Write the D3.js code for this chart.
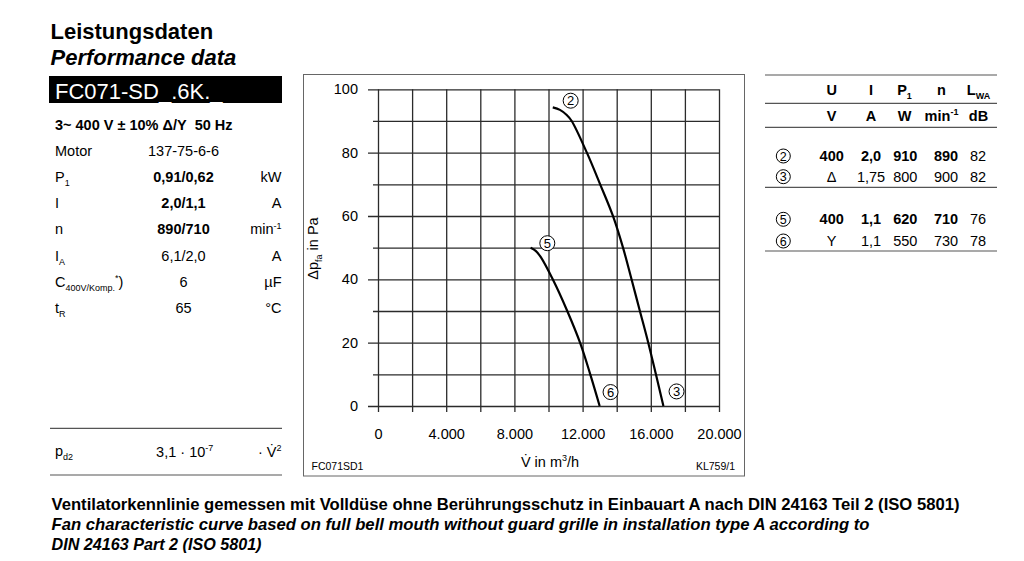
<!DOCTYPE html>
<html>
<head>
<meta charset="utf-8">
<script src="https://cdn.jsdelivr.net/npm/d3@7"></script>
<style>
  html, body { margin: 0; padding: 0; background: #fff; }
  svg { display: block; font-family: "Liberation Sans", Arial, Helvetica, sans-serif; }
</style>
</head>
<body>
<svg id="chart" width="1024" height="561"></svg>
<script>
// ---- data ----
// curve 2 -> 3 (delta connection), [V in m3/h, dp in Pa]
const curveDelta = [
  [10250, 94.3], [10670, 93.5], [11070, 91.9], [11360, 90], [12250, 80],
  [13030, 70], [13780, 60], [14370, 50], [14870, 40], [15360, 30],
  [15850, 20], [16300, 10], [16740, 0]
];
// curve 5 -> 6 (star connection)
const curveStar = [
  [8950, 50], [9250, 49], [9550, 47], [10250, 40],
  [11100, 30], [11850, 20], [12450, 10], [13000, 0]
];
// operating point markers (data units)
const pointIds = ['2', '3', '5', '6'];
const pointAt = [[11300, 96.4], [17510, 4.6], [9930, 51.4], [13640, 4.4]];

const xTicks = [0, 4000, 8000, 12000, 16000, 20000];
const xGrid = [0, 2000, 4000, 6000, 8000, 10000, 12000, 14000, 16000, 18000, 20000];
const yTicks = [0, 20, 40, 60, 80, 100];
const yMinor = [10, 30, 50, 70, 90];

// left parameter block
const params = [
  { name: [['Motor']], value: '137-75-6-6', unit: [] },
  { name: [['P'], ['1', 'sub']], value: '0,91/0,62', unit: [['kW']], rated: true },
  { name: [['I']], value: '2,0/1,1', unit: [['A']], rated: true },
  { name: [['n']], value: '890/710', unit: [['min'], ['-1', 'sup']], rated: true },
  { name: [['I'], ['A', 'sub']], value: '6,1/2,0', unit: [['A']] },
  { name: [['C'], ['400V/Komp.', 'sub'], ['*', 'sup'], [')']], value: '6', unit: [['µF']] },
  { name: [['t'], ['R', 'sub']], value: '65', unit: [['°C']] }
];
const supply = '3~ 400 V ± 10% Δ/Y\u00a0\u00a050 Hz';
const pd2 = { name: [['p'], ['d2', 'sub']], value: [['3,1 · 10'], ['-7', 'sup']], unit: [['· V\u0307'], ['2', 'sup']] };

// right table
const headCols = [[['U']], [['I']], [['P'], ['1', 'sub']], [['n']], [['L'], ['WA', 'sub']]];
const unitCols = [[['V']], [['A']], [['W']], [['min'], ['-1', 'sup']], [['dB']]];
const opRows = [
  { id: '2', vals: ['400', '2,0', '910', '890', '82'], rated: true },
  { id: '3', vals: ['Δ', '1,75', '800', '900', '82'] },
  { id: '5', vals: ['400', '1,1', '620', '710', '76'], rated: true },
  { id: '6', vals: ['Y', '1,1', '550', '730', '78'] }
];

const notes = [
  'Ventilatorkennlinie gemessen mit Volldüse ohne Berührungsschutz in Einbauart A nach DIN 24163 Teil 2 (ISO 5801)',
  'Fan characteristic curve based on full bell mouth without guard grille in installation type A according to',
  'DIN 24163 Part 2 (ISO 5801)'
];

// ---- helpers ----
const svg = d3.select('#chart');

// write text with sub/superscript parts
function rich(text, parts, size) {
  let cur = 0;
  parts.forEach(([t, mode]) => {
    let shift = mode === 'sub' ? size * 0.28 : mode === 'sup' ? -size * 0.38 : 0;
    text.append('tspan')
      .attr('dy', shift - cur)
      .style('font-size', mode ? (size * 0.62) + 'px' : null)
      .text(t);
    cur = shift;
  });
  return text;
}

function label(x, y, parts, opts = {}) {
  const size = opts.size || 14.5;
  const t = svg.append('text')
    .attr('x', x).attr('y', y)
    .attr('text-anchor', opts.anchor || 'start')
    .style('font-size', size + 'px')
    .style('font-weight', opts.bold ? 'bold' : null)
    .style('font-style', opts.italic ? 'italic' : null)
    .attr('fill', opts.fill || '#000');
  return rich(t, parts, size);
}

// ---- left block ----
label(50.5, 38.5, [['Leistungsdaten']], { size: 22, bold: true });
label(50.5, 64.5, [['Performance data']], { size: 22, bold: true, italic: true });
svg.append('rect').attr('x', 49).attr('y', 76).attr('width', 233).attr('height', 27).attr('fill', '#000');
label(55, 98.5, [['FC071-SD_.6K._']], { size: 22, fill: '#fff' });
label(55, 130, [[supply]], { size: 14.5, bold: true });

const rowY = d3.scaleLinear().domain([0, 6]).range([155.5, 313.3]);
params.forEach((p, i) => {
  const yy = rowY(i);
  label(55, yy, p.name);
  label(183.5, yy, [[p.value]], { anchor: 'middle', bold: p.rated });
  if (p.unit.length) label(281.5, yy, p.unit, { anchor: 'end' });
});

svg.append('g').selectAll('line').data([428.3, 475]).join('line')
  .attr('x1', 50).attr('x2', 282).attr('y1', d => d).attr('y2', d => d)
  .attr('stroke', '#555').attr('stroke-width', 1.2);
label(55, 456, pd2.name);
label(184.7, 456.5, pd2.value, { anchor: 'middle' });
label(281.5, 456.5, pd2.unit, { anchor: 'end' });

// ---- chart ----
svg.append('rect').attr('x', 303.5).attr('y', 74.5).attr('width', 441).attr('height', 401.5)
  .attr('fill', 'none').attr('stroke', '#666').attr('stroke-width', 1);

const x = d3.scaleLinear().domain([0, 20000]).range([378, 719]);
const y = d3.scaleLinear().domain([0, 100]).range([406, 89.3]);
const plotW = x(20000) - x(0);
const plotH = y(0) - y(100);
const de = d3.formatLocale({ decimal: ',', thousands: '.', grouping: [3], currency: ['', '€'] }).format(',');

function styleGrid(g) {
  g.select('.domain').remove();
  g.selectAll('.tick line').attr('stroke', '#2b2b2b').attr('stroke-width', 1.3);
}

// vertical grid, running a little below zero
svg.append('g').attr('transform', `translate(0,${y(100)})`)
  .call(d3.axisBottom(x).tickValues(xGrid).tickSize(plotH + 6).tickFormat(''))
  .call(styleGrid);
// horizontal grid, majors stick out further on the left
svg.append('g').attr('transform', `translate(${x(0) - 10},0)`)
  .call(d3.axisLeft(y).tickValues(yTicks).tickSize(-(plotW + 10)).tickFormat(''))
  .call(styleGrid);
svg.append('g').attr('transform', `translate(${x(0) - 5},0)`)
  .call(d3.axisLeft(y).tickValues(yMinor).tickSize(-(plotW + 5)).tickFormat(''))
  .call(styleGrid);

// tick labels
const xLab = svg.append('g').attr('transform', `translate(0,${y(0)})`)
  .call(d3.axisBottom(x).tickValues(xTicks).tickSize(0).tickPadding(22.5).tickFormat(de));
xLab.select('.domain').remove();
xLab.selectAll('text').style('font-size', '14.5px').attr('fill', '#000')
  .style('font-family', '"Liberation Sans", Arial, sans-serif');

const yLab = svg.append('g').attr('transform', `translate(${x(0)},0)`)
  .call(d3.axisLeft(y).tickValues(yTicks).tickSize(0).tickPadding(20));
yLab.select('.domain').remove();
yLab.selectAll('text').style('font-size', '14.5px').attr('fill', '#000')
  .style('font-family', '"Liberation Sans", Arial, sans-serif');

// axis titles
label(550, 466.5, [['V\u0307 in m'], ['3', 'sup'], ['/h']], { anchor: 'middle' });
const yt = svg.append('text')
  .attr('transform', 'translate(318,248.5) rotate(-90)')
  .attr('text-anchor', 'middle').style('font-size', '14.5px');
rich(yt, [['Δp'], ['fa', 'sub'], [' in Pa']], 14.5);

label(311.5, 470, [['FC071SD1']], { size: 10.5 });
label(735, 470, [['KL759/1']], { size: 10.5, anchor: 'end' });

// curves
const line = d3.line().x(d => x(d[0])).y(d => y(d[1])).curve(d3.curveCatmullRom.alpha(0.5));
svg.append('g').selectAll('path').data([curveDelta, curveStar]).join('path')
  .attr('d', line).attr('fill', 'none').attr('stroke', '#000').attr('stroke-width', 2.2);

// operating point markers
const marks = svg.append('g').selectAll('g').data(pointIds).join('g')
  .attr('transform', (d, i) => `translate(${x(pointAt[i][0])},${y(pointAt[i][1])})`);
marks.append('circle').attr('r', 7.5).attr('fill', '#fff').attr('stroke', '#000').attr('stroke-width', 1);
marks.append('text').attr('text-anchor', 'middle').attr('dy', '0.36em')
  .style('font-size', '13px').text(d => d);

// ---- right table ----
svg.append('g').selectAll('line').data([75, 103.3, 127.3, 187.3, 251]).join('line')
  .attr('x1', 765).attr('x2', 997).attr('y1', d => d).attr('y2', d => d)
  .attr('stroke', '#555').attr('stroke-width', 1.2);

const headX = [831.7, 871, 904.5, 941.5, 978.5];
const dataX = [831.7, 871, 905.3, 946, 978];
headCols.forEach((c, i) => label(headX[i], 95, c, { anchor: 'middle', bold: true }));
unitCols.forEach((c, i) => label(headX[i], 120.7, c, { anchor: 'middle', bold: true }));

const opY = [161, 181.7, 224.3, 246];
opRows.forEach((r, j) => {
  const g = svg.append('g').attr('transform', `translate(783.3,${opY[j] - 5})`);
  g.append('circle').attr('r', 7).attr('fill', '#fff').attr('stroke', '#000').attr('stroke-width', 1);
  g.append('text').attr('text-anchor', 'middle').attr('dy', '0.36em').style('font-size', '12.5px').text(r.id);
  r.vals.forEach((v, i) => {
    label(dataX[i], opY[j], [[v]], { anchor: 'middle', bold: r.rated && i < 4 });
  });
});

// ---- footnote ----
const noteWidths = [908, 818, 210];
notes.forEach((n, i) => {
  label(51.5, 509.7 + i * 20, [[n]], { size: 16.4, bold: true, italic: i > 0 })
    .attr('textLength', noteWidths[i]).attr('lengthAdjust', 'spacingAndGlyphs');
});
</script>
</body>
</html>
